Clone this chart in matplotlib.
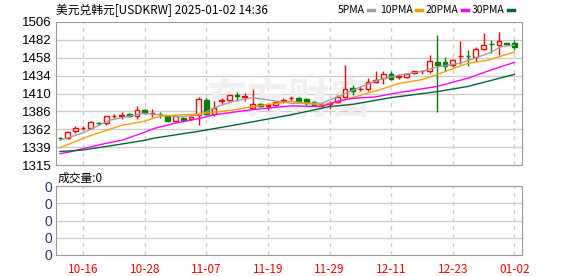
import numpy as np
import matplotlib
matplotlib.use('Agg')
from matplotlib import pyplot as plt

plt.rcParams['font.family'] = ['Noto Sans CJK SC', 'DejaVu Sans']

# daily candles, 10-11 .. 01-02
opens = [1351, 1351, 1360, 1364, 1365, 1371, 1371, 1380.5, 1381, 1383,
         1381, 1389, 1384, 1383.5, 1381, 1374, 1378, 1376, 1382, 1402,
         1383, 1400, 1402, 1408, 1406, 1391, 1397, 1394, 1395, 1401,
         1404, 1405, 1403, 1399, 1395, 1397, 1399, 1406, 1418, 1416,
         1416, 1426, 1431, 1437, 1433, 1432, 1438, 1440, 1440, 1453,
         1452, 1449, 1460, 1460.5, 1459, 1470, 1476.5, 1475, 1477.5, 1478]
closes = [1350.5, 1359, 1365, 1364.5, 1372, 1370.5, 1380, 1381, 1381.5, 1380,
          1389, 1384, 1384.5, 1383, 1374, 1380, 1375, 1379, 1403, 1383,
          1391, 1402, 1408, 1407.5, 1406.5, 1396, 1394, 1394.5, 1399, 1401.5,
          1404.5, 1400, 1398, 1395, 1397, 1397.5, 1406, 1416, 1414, 1416.5,
          1426, 1429, 1437, 1430, 1433.5, 1437, 1440, 1440.5, 1454, 1448,
          1447, 1455, 1460.5, 1460, 1470, 1475, 1476, 1481, 1477, 1472]
highs = [1353, 1361, 1367, 1367, 1374, 1373, 1381, 1383, 1386, 1384,
         1394, 1390, 1390, 1386, 1382, 1381, 1379, 1380, 1406, 1404,
         1400, 1404, 1410, 1412, 1411, 1416, 1398, 1398, 1401, 1404,
         1407, 1406, 1404, 1400, 1398, 1401, 1408, 1449, 1422, 1420,
         1431, 1440, 1440, 1441, 1436, 1438, 1441, 1442, 1462, 1489,
         1459, 1457, 1481, 1469, 1472, 1491, 1482, 1492, 1478, 1482]
lows = [1348, 1350, 1358, 1362, 1364, 1368, 1369, 1378, 1377, 1379,
        1377, 1383, 1379, 1378, 1373, 1372, 1373, 1375, 1369, 1382,
        1380, 1397, 1401, 1400, 1400, 1390, 1393, 1388, 1394, 1398,
        1401, 1399, 1395, 1394, 1393, 1390, 1398, 1404, 1409, 1414,
        1414, 1424, 1423, 1428, 1430, 1431, 1436, 1436, 1438, 1386,
        1440, 1446, 1450, 1447, 1452, 1469, 1465, 1462, 1476, 1468]

# moving averages (candle index, value)
ma5_idx = [0, 3, 6.5, 10.8, 13, 15.6, 18.2, 20.4, 22.5, 25, 27, 30, 34, 36, 39, 41.3, 44, 47, 49, 52, 55.6, 57.3, 59]
ma5_val = [1348, 1358, 1375, 1384, 1382, 1379.5, 1382, 1393, 1400, 1405, 1402, 1397.5, 1397.5, 1406, 1419, 1428.5, 1435, 1440, 1446, 1451, 1464, 1473, 1475]
ma10_idx = [0, 3.6, 8, 10.8, 13, 15.6, 18, 22.5, 25, 30, 34, 36, 39, 42, 44, 47, 49, 53, 55.6, 59]
ma10_val = [1338, 1353, 1368, 1373, 1380, 1382, 1383, 1388.5, 1393, 1400, 1395, 1399.5, 1408, 1417, 1424, 1429, 1436, 1451, 1455, 1466]
ma20_idx = [0, 1.5, 3, 6, 8, 10.8, 12.3, 15, 18, 20, 25, 30, 34, 36, 38, 41, 43, 49, 53, 56, 59]
ma20_val = [1330, 1333, 1337, 1344, 1348, 1358, 1364, 1371, 1377, 1382, 1389, 1394, 1393, 1400, 1404, 1406, 1410, 1420, 1431, 1442, 1452]
ma30_idx = [0, 3, 8, 11, 12.3, 18, 22.5, 30, 35, 38, 43, 49, 53, 59]
ma30_val = [1333, 1335, 1343, 1348, 1351, 1360, 1368, 1382, 1393, 1396, 1405, 1413, 1420, 1436]

ytick_labels = ['1315', '1339', '1362', '1386', '1410', '1434', '1458', '1482', '1506']
date_idx = [3, 11, 19, 27, 35, 43, 51, 59]
date_labels = ['10-16', '10-28', '11-07', '11-19', '11-29', '12-11', '12-23', '01-02']

fig = plt.figure(figsize=(5.78, 2.76), dpi=100)
ax = fig.add_axes([56 / 578, 1 - 165 / 276, 466 / 578, 143 / 276])
axv = fig.add_axes([56 / 578, 1 - 255 / 276, 466 / 578, 69 / 276])

red, green = '#ff0000', '#008000'
x = np.arange(len(opens))
for i in x:
    o, c = opens[i], closes[i]
    col = red if c >= o else green
    ax.vlines(i, lows[i], highs[i], color=col, lw=1, zorder=3)
    ax.bar(i, max(abs(c - o), 0.01), bottom=min(o, c), width=0.62,
           facecolor='white' if c >= o else green, edgecolor=col, lw=1, zorder=4)

ax.plot(ma5_idx, ma5_val, color='#a0a0a0', lw=1, zorder=5)
ax.plot(ma10_idx, ma10_val, color='#f5a000', lw=1, zorder=5)
ax.plot(ma20_idx, ma20_val, color='#ff00ff', lw=1, zorder=5)
ax.plot(ma30_idx, ma30_val, color='#006633', lw=1, zorder=5)

# faint watermark
ax.text(0.5, 0.45, '东方财富', transform=ax.transAxes, ha='center', va='center',
        fontsize=30, color='#f0f0f0', fontweight='bold', zorder=1)

yt = np.linspace(1315, 1506, 9)
ax.set_ylim(1315, 1506)
ax.set_yticks(yt)
ax.set_yticklabels(ytick_labels, family=['Liberation Sans'], fontsize=9.5)
for a in (ax, axv):
    a.set_xlim(-0.52, 60)
    a.set_xticks(date_idx)
    a.tick_params(length=0, pad=3)
    for s in a.spines.values():
        s.set_color('#999999')
    for v in date_idx:
        a.axvline(v, color='#cccccc', lw=1, ls=(0, (3, 3)), zorder=0)
for v in yt[1:-1]:
    ax.axhline(v, color='#cccccc', lw=1, zorder=0)
ax.set_xticklabels([])

axv.set_ylim(0, 4)
axv.set_yticks(range(5))
axv.set_yticklabels(['0'] * 5, family=['Liberation Sans'], fontsize=10, color='#1f3a6e')
for v in range(1, 4):
    axv.axhline(v, color='#cccccc', lw=1, zorder=0)
axv.set_xticklabels(date_labels, color='red', fontsize=8.5)
axv.tick_params(axis='x', pad=6)

fig.text(56 / 578, 1 - 10 / 276, '美元兑韩元[USDKRW] 2025-01-02 14:36', fontsize=8.5,
         va='center', ha='left')
fig.text(58 / 578, 1 - 178 / 276, '成交量:0', fontsize=8.5, va='center', ha='left')

# legend: name followed by a short coloured dash
legend_names = ['5PMA', '10PMA', '20PMA', '30PMA']
legend_colors = ['#a0a0a0', '#f5a000', '#ff00ff', '#006633']
legend_px = [338, 380, 426, 472]
renderer = fig.canvas.get_renderer()
for name, col, px in zip(legend_names, legend_colors, legend_px):
    t = fig.text(px / 578, 1 - 10 / 276, name, fontsize=7.5, va='center', ha='left')
    w = t.get_window_extent(renderer).width
    x0 = px + w + 3
    fig.add_artist(plt.Line2D([x0 / 578, (x0 + 6) / 578],
                              [1 - 10 / 276, 1 - 10 / 276], color=col, lw=2.5))

fig.savefig('out.png', dpi=100)
